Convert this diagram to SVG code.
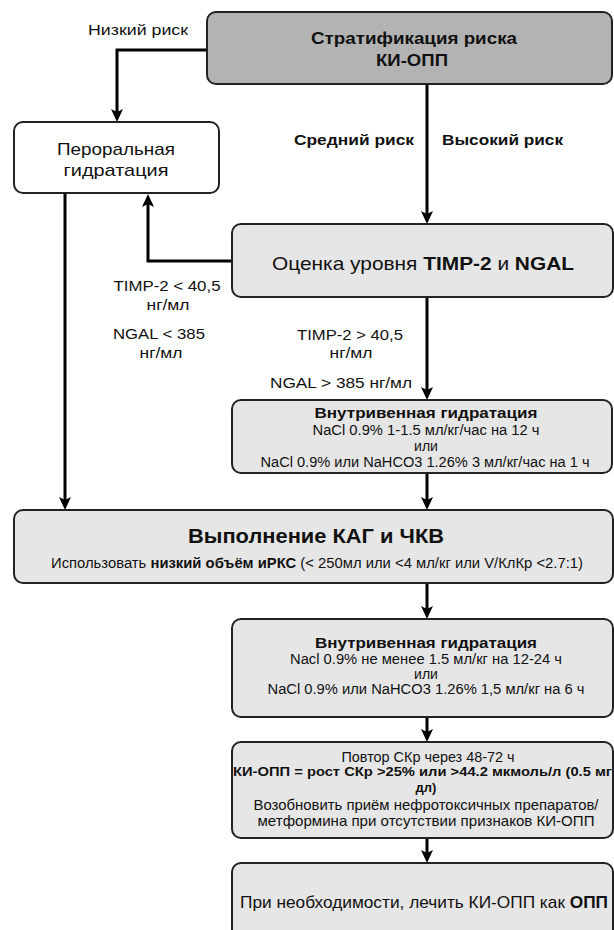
<svg xmlns="http://www.w3.org/2000/svg" width="614" height="930" viewBox="0 0 614 930">
<defs>
<style>
text{font-family:"Liberation Sans",Arial,sans-serif;fill:#111;}
.box{stroke:#222;stroke-width:2;}
.g1{fill:#b3b3b3;}
.g2{fill:#e6e6e6;}
.w{fill:#ffffff;}
.c{fill:none;stroke:#000;stroke-width:3;marker-end:url(#ah);}
.b{font-weight:bold;}
.m{text-anchor:middle;}
</style>
<marker id="ah" viewBox="0 0 13 12" refX="3" refY="6" markerWidth="13" markerHeight="12" markerUnits="userSpaceOnUse" orient="auto">
<path d="M0,0 L13,6 L0,12 L3,6 Z" fill="#000"/>
</marker>
</defs>
<rect width="614" height="930" fill="#fff"/>

<g id="connectors">
<path class="c" d="M207,50 H117 V112"/>
<path class="c" d="M427,84 V214"/>
<path class="c" d="M232,261 H148 V204"/>
<path class="c" d="M65,194 V500"/>
<path class="c" d="M427,297 V390"/>
<path class="c" d="M427,473 V500"/>
<path class="c" d="M427,583 V609"/>
<path class="c" d="M427,717 V732"/>
<path class="c" d="M427,838 V853"/>
</g>

<g id="labels">
<text x="138" y="35" class="m" font-size="15" textLength="100" lengthAdjust="spacingAndGlyphs">Низкий риск</text>
<text x="294" y="145" font-size="15" class="b" textLength="120" lengthAdjust="spacingAndGlyphs">Средний риск</text>
<text x="442" y="145" font-size="15" class="b" textLength="121" lengthAdjust="spacingAndGlyphs">Высокий риск</text>
<text x="167" y="291" class="m" font-size="15" textLength="107" lengthAdjust="spacingAndGlyphs">TIMP-2 &lt; 40,5</text>
<text x="168" y="310" class="m" font-size="15" textLength="43" lengthAdjust="spacingAndGlyphs">нг/мл</text>
<text x="159" y="339" class="m" font-size="15" textLength="92" lengthAdjust="spacingAndGlyphs">NGAL &lt; 385</text>
<text x="161" y="358" class="m" font-size="15" textLength="43" lengthAdjust="spacingAndGlyphs">нг/мл</text>
<text x="350" y="340" class="m" font-size="15" textLength="106" lengthAdjust="spacingAndGlyphs">TIMP-2 &gt; 40,5</text>
<text x="351" y="358" class="m" font-size="15" textLength="43" lengthAdjust="spacingAndGlyphs">нг/мл</text>
<text x="341" y="388" class="m" font-size="15" textLength="142" lengthAdjust="spacingAndGlyphs">NGAL &gt; 385 нг/мл</text>
</g>

<g id="n-strat">
<rect class="box g1" x="207" y="12" width="405" height="72" rx="9"/>
<text x="414" y="44" class="m b" font-size="17" textLength="206" lengthAdjust="spacingAndGlyphs">Стратификация риска</text>
<text x="412" y="66" class="m b" font-size="17" textLength="72" lengthAdjust="spacingAndGlyphs">КИ-ОПП</text>
</g>

<g id="n-oral">
<rect class="box w" x="14" y="122" width="205" height="71" rx="9"/>
<text x="116" y="155" class="m" font-size="17" textLength="118" lengthAdjust="spacingAndGlyphs">Пероральная</text>
<text x="116" y="176" class="m" font-size="17" textLength="105" lengthAdjust="spacingAndGlyphs">гидратация</text>
</g>

<g id="n-ocenka">
<rect class="box g2" x="232" y="224" width="381" height="73" rx="9"/>
<text x="423" y="270" class="m" font-size="19" textLength="302" lengthAdjust="spacingAndGlyphs">Оценка уровня <tspan class="b">TIMP-2</tspan> и <tspan class="b">NGAL</tspan></text>
</g>

<g id="n-iv1">
<rect class="box g2" x="232" y="400" width="380" height="73" rx="9"/>
<text x="426" y="418" class="m b" font-size="15" textLength="223" lengthAdjust="spacingAndGlyphs">Внутривенная гидратация</text>
<text x="426" y="435" class="m" font-size="14" textLength="227" lengthAdjust="spacingAndGlyphs">NaCl 0.9% 1-1.5 мл/кг/час на 12 ч</text>
<text x="426" y="451" class="m" font-size="14">или</text>
<text x="425" y="467" class="m" font-size="14" textLength="329" lengthAdjust="spacingAndGlyphs">NaCl 0.9% или NaHCO3 1.26% 3 мл/кг/час на 1 ч</text>
</g>

<g id="n-kag">
<rect class="box g2" x="14" y="510" width="599" height="73" rx="9"/>
<text x="316" y="543" class="m b" font-size="21" textLength="256" lengthAdjust="spacingAndGlyphs">Выполнение КАГ и ЧКВ</text>
<text x="317" y="568" class="m" font-size="14" textLength="532" lengthAdjust="spacingAndGlyphs">Использовать <tspan class="b">низкий объём иРКС</tspan> (&lt; 250мл или &lt;4 мл/кг или V/КлКр &lt;2.7:1)</text>
</g>

<g id="n-iv2">
<rect class="box g2" x="232" y="619" width="381" height="98" rx="9"/>
<text x="426" y="648" class="m b" font-size="15" textLength="222" lengthAdjust="spacingAndGlyphs">Внутривенная гидратация</text>
<text x="426" y="664" class="m" font-size="14" textLength="272" lengthAdjust="spacingAndGlyphs">Nacl 0.9% не менее 1.5 мл/кг на 12-24 ч</text>
<text x="426" y="679" class="m" font-size="14">или</text>
<text x="426" y="694" class="m" font-size="14" textLength="317" lengthAdjust="spacingAndGlyphs">NaCl 0.9% или NaHCO3 1.26% 1,5 мл/кг на 6 ч</text>
</g>

<g id="n-repeat">
<rect class="box g2" x="232" y="742" width="381" height="96" rx="9"/>
<text x="428" y="762" class="m" font-size="14" textLength="173" lengthAdjust="spacingAndGlyphs">Повтор СКр через 48-72 ч</text>
<text x="233" y="776" class="b" font-size="13.5" textLength="379" lengthAdjust="spacingAndGlyphs">КИ-ОПП = рост СКр &gt;25% или &gt;44.2 мкмоль/л (0.5 мг</text>
<text x="426" y="792" class="m b" font-size="13">дл)</text>
<text x="426" y="810" class="m" font-size="15" textLength="345" lengthAdjust="spacingAndGlyphs">Возобновить приём нефротоксичных препаратов/</text>
<text x="426" y="826" class="m" font-size="15" textLength="337" lengthAdjust="spacingAndGlyphs">метформина при отсутствии признаков КИ-ОПП</text>
</g>

<g id="n-treat">
<rect class="box g2" x="232" y="863" width="381" height="80" rx="9"/>
<text x="424" y="908" class="m" font-size="17" textLength="368" lengthAdjust="spacingAndGlyphs">При необходимости, лечить КИ-ОПП как <tspan class="b">ОПП</tspan></text>
</g>
</svg>
